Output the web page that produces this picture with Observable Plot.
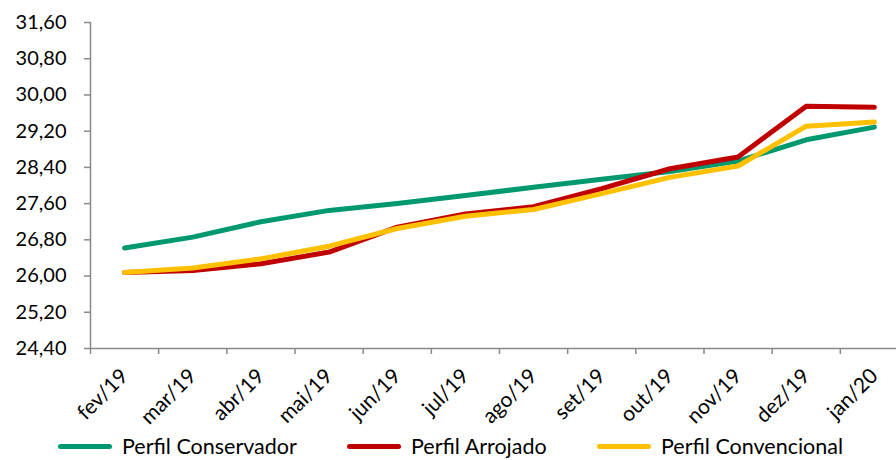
<!DOCTYPE html>
<html>
<head>
<meta charset="utf-8">
<script src="https://cdn.jsdelivr.net/npm/d3@7"></script>
<script src="https://cdn.jsdelivr.net/npm/@observablehq/plot@0.6"></script>
<style>
  body { margin: 0; background: #fff; font-family: Lato, "Liberation Sans", sans-serif; }
  #wrap { position: relative; width: 896px; height: 460px; overflow: hidden; }
  #chart { position: absolute; left: 0; top: 0; }
  #legend { position: absolute; left: 0; top: 432px; width: 896px; height: 28px; font-size: 21.5px; color: #000; }
  .item { position: absolute; top: 0; display: flex; align-items: center; height: 28px; }
  .sw { width: 54px; height: 5px; border-radius: 3px; margin-right: 10px; }
</style>
</head>
<body>
<div id="wrap"><div id="chart"></div><div id="legend"></div></div>
<script>
const months = ["fev/19","mar/19","abr/19","mai/19","jun/19","jul/19","ago/19","set/19","out/19","nov/19","dez/19","jan/20"];
const conservador = [26.62, 26.86, 27.20, 27.45, 27.60, 27.78, 27.96, 28.14, 28.31, 28.54, 29.01, 29.29];
const arrojado    = [26.08, 26.12, 26.27, 26.53, 27.08, 27.37, 27.53, 27.93, 28.37, 28.63, 29.75, 29.73];
const convencional= [26.08, 26.18, 26.38, 26.66, 27.05, 27.32, 27.47, 27.82, 28.18, 28.43, 29.31, 29.40];
const seriesNames = ["Perfil Conservador", "Perfil Arrojado", "Perfil Convencional"];
const seriesColors = ["#00996F", "#C00000", "#FFC000"];
const yTicks = [24.4, 25.2, 26.0, 26.8, 27.6, 28.4, 29.2, 30.0, 30.8, 31.6];

const seriesValues = [conservador, arrojado, convencional];
const rows = [];
seriesNames.forEach((name, s) => seriesValues[s].forEach((v, i) => rows.push({name, i, v})));
const idx = months.map((m, i) => i);
const bounds = months.map((m, i) => i - 0.5).concat([months.length - 0.5]);

const fmt = d => d.toFixed(2).replace(".", ",");

const chart = Plot.plot({
  width: 896,
  height: 434,
  marginLeft: 90,
  marginRight: -12,
  marginTop: 22,
  marginBottom: 86,
  style: { fontFamily: "Lato, 'Liberation Sans', sans-serif", fontSize: "20px", color: "#000", background: "transparent" },
  x: { type: "linear", domain: [-0.5, months.length - 0.5] },
  y: { domain: [yTicks[0], yTicks[yTicks.length - 1]] },
  color: { domain: seriesNames, range: seriesColors },
  marks: [
    Plot.axisY({ ticks: yTicks, tickFormat: fmt, tickSize: 6, tickPadding: 18, stroke: "#898989", strokeWidth: 1.5, fill: "#000", label: null }),
    Plot.axisX({ ticks: bounds, tickFormat: () => "", tickSize: 6, stroke: "#898989", strokeWidth: 1.5, label: null }),
    Plot.axisX({ ticks: idx, tickFormat: i => months[i], tickSize: 0, tickPadding: 24, tickRotate: -45, fill: "#000", fontSize: 21, label: null }),
    Plot.ruleY([yTicks[0]], { stroke: "#898989", strokeWidth: 1.5 }),
    Plot.ruleX([-0.5], { stroke: "#898989", strokeWidth: 1.5 }),
    Plot.line(rows, { x: "i", y: "v", z: "name", stroke: "name", strokeWidth: 5, strokeLinejoin: "round", strokeLinecap: "round" })
  ]
});
document.getElementById("chart").appendChild(chart);

const legend = document.getElementById("legend");
const lefts = [58, 347, 597];
seriesNames.forEach((n, s) => {
  const it = document.createElement("div");
  it.className = "item";
  it.style.left = lefts[s] + "px";
  it.innerHTML = `<span class="sw" style="background:${seriesColors[s]}"></span><span>${n}</span>`;
  legend.appendChild(it);
});
</script>
</body>
</html>
